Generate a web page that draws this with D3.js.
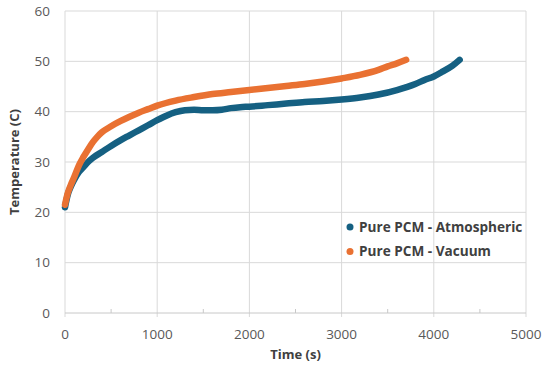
<!DOCTYPE html>
<html lang="en">
<head>
  <meta charset="utf-8">
  <title>Temperature vs Time</title>
  <style>
    html, body { margin: 0; padding: 0; background: #fff; }
    svg { display: block; font-family: "Open Sans", "Noto Sans", sans-serif; }
  </style>
</head>
<body>
  <div id="chart"></div>

  <script src="https://d3js.org/d3.v7.min.js"></script>
  <script>
    // values: time (s) and temperature (C)
    const atmTime = [0, 30, 60, 100, 150, 200, 250, 300, 400, 500, 600, 700, 800, 900, 1000,
      1100, 1200, 1300, 1400, 1500, 1600, 1700, 1800, 1900, 2000, 2200, 2400, 2600, 2800,
      3000, 3200, 3400, 3600, 3800, 3900, 4000, 4100, 4200, 4280];
    const atmTemp = [21, 23.5, 25, 26.5, 28, 29, 30, 30.8, 32, 33.2, 34.3, 35.3, 36.3, 37.3, 38.3,
      39.2, 39.9, 40.3, 40.4, 40.3, 40.3, 40.4, 40.7, 40.9, 41.0, 41.3, 41.6, 41.9, 42.1,
      42.4, 42.8, 43.4, 44.3, 45.5, 46.3, 47.0, 48.0, 49.1, 50.3];

    const vacTime = [0, 30, 60, 100, 150, 200, 250, 300, 350, 400, 500, 600, 700, 800, 900, 1000,
      1200, 1400, 1600, 1800, 2000, 2200, 2400, 2600, 2800, 3000, 3200, 3400, 3500, 3600, 3700];
    const vacTemp = [21.5, 23.8, 25.3, 27, 29.3, 31, 32.5, 33.9, 35.0, 35.9, 37.1, 38.1, 39.0, 39.8, 40.5, 41.2,
      42.2, 42.9, 43.5, 43.9, 44.3, 44.7, 45.1, 45.5, 46.0, 46.6, 47.3, 48.3, 49.0, 49.6, 50.3];

    const seriesNames = ["Pure PCM - Atmospheric", "Pure PCM - Vacuum"];
    const xTicks = [0, 1000, 2000, 3000, 4000, 5000];
    const xMinorTicks = [500, 1500, 2500, 3500, 4500];
    const yTicks = [0, 10, 20, 30, 40, 50, 60];

    const colors = ["#156082", "#E97132"];

    const width = 550;
    const height = 369;
    const margin = { top: 11, right: 24, bottom: 56, left: 65 };

    const x = d3.scaleLinear()
      .domain([0, 5000])
      .range([margin.left, width - margin.right]);
    const y = d3.scaleLinear()
      .domain([0, 60])
      .range([height - margin.bottom, margin.top]);

    const svg = d3.select("#chart").append("svg")
      .attr("width", width)
      .attr("height", height)
      .attr("viewBox", [0, 0, width, height]);

    // gridlines
    svg.append("g")
      .attr("class", "grid")
      .selectAll("line.h")
      .data(yTicks.slice(1))
      .join("line")
      .attr("x1", x(0)).attr("x2", x(5000))
      .attr("y1", d => y(d)).attr("y2", d => y(d))
      .attr("stroke", "#d9d9d9");
    svg.append("g")
      .selectAll("line")
      .data(xTicks)
      .join("line")
      .attr("x1", d => x(d)).attr("x2", d => x(d))
      .attr("y1", y(60)).attr("y2", y(0) + 4)
      .attr("stroke", "#d9d9d9");

    // x axis line and minor ticks
    svg.append("line")
      .attr("x1", x(0)).attr("x2", x(5000))
      .attr("y1", y(0)).attr("y2", y(0))
      .attr("stroke", "#c8c8c8");
    svg.append("g")
      .selectAll("line")
      .data(xMinorTicks)
      .join("line")
      .attr("x1", d => x(d)).attr("x2", d => x(d))
      .attr("y1", y(0) - 4).attr("y2", y(0))
      .attr("stroke", "#c8c8c8");

    // tick labels
    svg.append("g")
      .selectAll("text")
      .data(xTicks)
      .join("text")
      .attr("x", d => x(d))
      .attr("y", y(0) + 26)
      .attr("text-anchor", "middle")
      .attr("fill", "#595959")
      .attr("font-size", 13.5)
      .text(d => d);
    svg.append("g")
      .selectAll("text")
      .data(yTicks)
      .join("text")
      .attr("x", x(0) - 15)
      .attr("y", d => y(d))
      .attr("dy", "0.35em")
      .attr("text-anchor", "end")
      .attr("fill", "#595959")
      .attr("font-size", 13.5)
      .text(d => d);

    // axis titles
    svg.append("text")
      .attr("x", (x(0) + x(5000)) / 2)
      .attr("y", height - 10)
      .attr("text-anchor", "middle")
      .attr("font-weight", "bold")
      .attr("font-size", 13)
      .attr("fill", "#404040")
      .text("Time (s)");
    svg.append("text")
      .attr("transform", `translate(19,${(y(0) + y(60)) / 2}) rotate(-90)`)
      .attr("text-anchor", "middle")
      .attr("font-weight", "bold")
      .attr("font-size", 13)
      .attr("fill", "#404040")
      .text("Temperature (C)");

    // series
    const line = d3.line()
      .x(d => x(d[0]))
      .y(d => y(d[1]))
      .curve(d3.curveMonotoneX);

    const series = [
      d3.zip(atmTime, atmTemp),
      d3.zip(vacTime, vacTemp)
    ];

    svg.append("g")
      .selectAll("path")
      .data(series)
      .join("path")
      .attr("d", line)
      .attr("fill", "none")
      .attr("stroke", (d, i) => colors[i])
      .attr("stroke-width", 6.5)
      .attr("stroke-linecap", "round")
      .attr("stroke-linejoin", "round");

    // legend
    const legend = svg.append("g")
      .selectAll("g")
      .data(seriesNames)
      .join("g")
      .attr("transform", (d, i) => `translate(350,${227 + i * 24.5})`);
    legend.append("circle")
      .attr("r", 3.5)
      .attr("fill", (d, i) => colors[i]);
    legend.append("text")
      .attr("x", 9)
      .attr("dy", "0.35em")
      .attr("font-weight", "bold")
      .attr("font-size", 13.6)
      .attr("fill", "#404040")
      .text(d => d);
  </script>
</body>
</html>
